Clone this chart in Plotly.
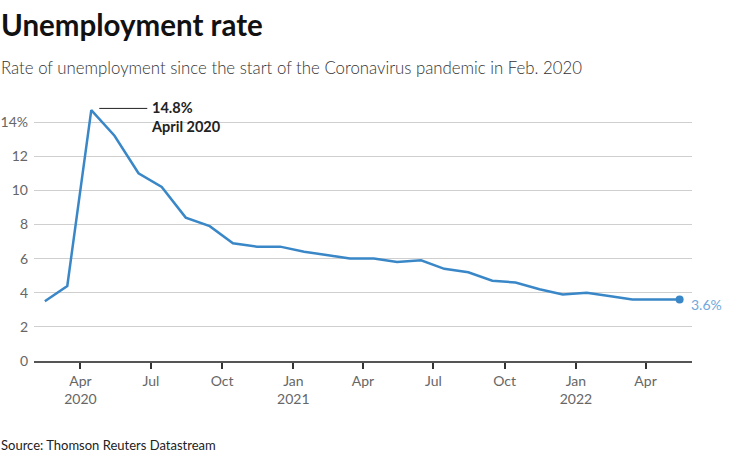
import plotly.graph_objects as go

months = ["2020-02-15","2020-03-15","2020-04-15","2020-05-15","2020-06-15","2020-07-15",
          "2020-08-15","2020-09-15","2020-10-15","2020-11-15","2020-12-15",
          "2021-01-15","2021-02-15","2021-03-15","2021-04-15","2021-05-15","2021-06-15",
          "2021-07-15","2021-08-15","2021-09-15","2021-10-15","2021-11-15","2021-12-15",
          "2022-01-15","2022-02-15","2022-03-15","2022-04-15","2022-05-15"]
rate = [3.5, 4.4, 14.7, 13.2, 11.0, 10.2, 8.4, 7.9, 6.9, 6.7, 6.7,
        6.4, 6.2, 6.0, 6.0, 5.8, 5.9, 5.4, 5.2, 4.7, 4.6, 4.2, 3.9,
        4.0, 3.8, 3.6, 3.6, 3.6]

x_tickvals = ["2020-04-01","2020-07-01","2020-10-01","2021-01-01","2021-04-01",
              "2021-07-01","2021-10-01","2022-01-01","2022-04-01"]
x_ticktext = ["Apr<br>2020","Jul","Oct","Jan<br>2021","Apr","Jul","Oct","Jan<br>2022","Apr"]
y_tickvals = [0, 2, 4, 6, 8, 10, 12, 14]
y_ticktext = ["0", "2", "4", "6", "8", "10", "12", "14%"]

FONT = "Lato"
LINE = "#3a87c8"

fig = go.Figure()
fig.add_trace(go.Scatter(x=months, y=rate, mode="lines",
                         line=dict(color=LINE, width=2.5), hoverinfo="skip"))
fig.add_trace(go.Scatter(x=[months[-1]], y=[rate[-1]], mode="markers",
                         marker=dict(color=LINE, size=8), hoverinfo="skip"))

peak_i = rate.index(max(rate))
fig.add_shape(type="line", xref="x", yref="y", xsizemode="pixel",
              xanchor=months[peak_i], x0=8, x1=56, y0=14.8, y1=14.8,
              line=dict(color="#222", width=1))
fig.add_annotation(x=months[peak_i], y=14.8, xref="x", yref="y",
                   text="<b>14.8%<br>April 2020</b>", showarrow=False,
                   xanchor="left", yanchor="top", xshift=58, yshift=11, align="left",
                   font=dict(family=FONT, size=14.5, color="#222"))
fig.add_annotation(x=months[-1], y=rate[-1], xref="x", yref="y",
                   text="3.6%", showarrow=False, xanchor="left", xshift=9, yshift=-5,
                   font=dict(family=FONT, size=14, color="#6fa8dc"))

fig.add_annotation(x=0, y=1, xref="paper", yref="paper", xanchor="left", yanchor="top",
                   text="<b>Unemployment rate</b>", showarrow=False, xshift=-35, yshift=100,
                   font=dict(family=FONT, size=29.5, color="#111"))
fig.add_annotation(x=0, y=1, xref="paper", yref="paper", xanchor="left", yanchor="top",
                   text="Rate of unemployment since the start of the Coronavirus pandemic in Feb. 2020",
                   showarrow=False, xshift=-35, yshift=50,
                   font=dict(family=FONT, size=16.8, color="#333", weight=300))
fig.add_annotation(x=0, y=0, xref="paper", yref="paper", xanchor="left", yanchor="top",
                   text="Source: Thomson Reuters Datastream", showarrow=False,
                   xshift=-35, yshift=-74, font=dict(family=FONT, size=13, color="#222"))

fig.update_layout(
    width=736, height=457, margin=dict(l=34, r=44, t=105, b=96),
    paper_bgcolor="white", plot_bgcolor="white", showlegend=False,
    font=dict(family=FONT, color="#555"),
)
fig.update_xaxes(range=["2020-02-01", "2022-05-31"], tickvals=x_tickvals, ticktext=x_ticktext,
                 showgrid=False, zeroline=False, showline=True, linecolor="#555", linewidth=2,
                 ticks="outside", ticklen=6, tickcolor="#333", tickwidth=1.5, automargin=False,
                 tickfont=dict(family=FONT, size=14, color="#666"))
fig.update_yaxes(range=[0, 15], tickvals=y_tickvals, ticktext=y_ticktext,
                 showgrid=True, gridcolor="#cfcfcf", gridwidth=1, zeroline=False,
                 showline=False, ticks="", ticklabelstandoff=5, automargin=False,
                 tickfont=dict(family=FONT, size=14, color="#666"))

fig.write_html("out.html")
